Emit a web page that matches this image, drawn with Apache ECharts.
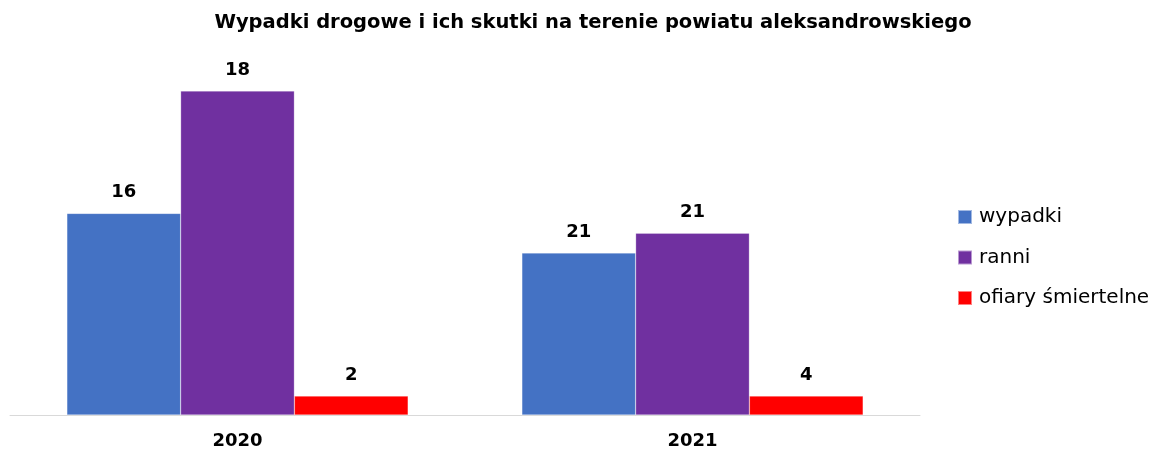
<!DOCTYPE html>
<html><head><meta charset="utf-8">
<script src="https://cdn.jsdelivr.net/npm/echarts@6/dist/echarts.min.js"></script>
<style>html,body{margin:0;padding:0;background:#fff}#c{width:1163px;height:450px}</style>
</head><body><div id="c"></div>
<script>
const categories = ['2020', '2021'];
const seriesNames = ['wypadki', 'ranni', 'ofiary śmiertelne'];
// bar heights as drawn in the reference (relative scale)
const wypadkiHeights = [11.2, 9.0];
const ranniHeights = [18, 10.1];
const ofiaryHeights = [1.05, 1.05];
// printed data labels
const wypadkiLabels = ['16', '21'];
const ranniLabels = ['18', '21'];
const ofiaryLabels = ['2', '4'];
const colors = ['#4472C4', '#7030A0', '#FF0000'];

const heights = [wypadkiHeights, ranniHeights, ofiaryHeights];
const labels = [wypadkiLabels, ranniLabels, ofiaryLabels];
const F = '"DejaVu Sans", sans-serif';

const chart = echarts.init(document.getElementById('c'));
chart.setOption({
  animation: false,
  title: {
    text: 'Wypadki drogowe i ich skutki na terenie powiatu aleksandrowskiego',
    left: 588, textAlign: 'center', top: 8,
    textStyle: {fontFamily: F, fontWeight: 'bold', fontSize: 19.5, color: '#000'}
  },
  legend: {
    orient: 'vertical', left: 952, top: 202, itemGap: 20.5,
    itemWidth: 14, itemHeight: 14, icon: 'rect',
    textStyle: {fontFamily: F, fontSize: 20, lineHeight: 20, color: '#000', padding: [0,0,0,2]},
    data: seriesNames
  },
  grid: {left: 10, right: 243, top: 55, bottom: 34, containLabel: false},
  xAxis: {
    type: 'category', data: categories,
    axisLine: {lineStyle: {color: '#d9d9d9', width: 1}},
    axisTick: {show: false},
    axisLabel: {fontFamily: F, fontWeight: 'bold', fontSize: 18, color: '#000', margin: 17}
  },
  yAxis: {type: 'value', min: 0, max: 20, show: false, splitLine: {show: false}},
  series: seriesNames.map((n, i) => ({
    name: n, type: 'bar', barGap: '0%', barCategoryGap: '25%',
    itemStyle: {color: colors[i], borderColor: 'rgba(255,255,255,0.5)', borderWidth: 0.5},
    label: {
      show: true, position: 'top', distance: 12,
      fontFamily: F, fontWeight: 'bold', fontSize: 18, color: '#000',
      formatter: p => labels[i][p.dataIndex]
    },
    data: heights[i]
  }))
});
</script></body></html>
